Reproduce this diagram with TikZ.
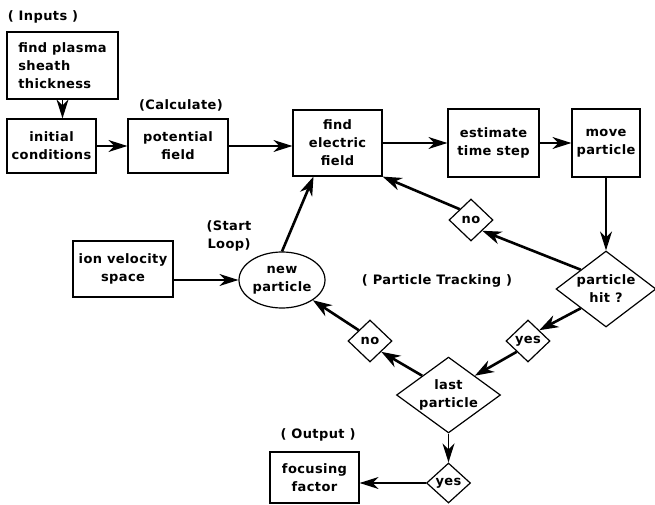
\documentclass[tikz,border=0pt]{standalone}
\usepackage{fontspec}
\setmainfont{DejaVu Sans}[LetterSpace=3]
\usepackage{tikz}
\usetikzlibrary{calc,shapes.geometric,arrows.meta}
\def\stepbox{\node[rectangle,draw=black,line width=1.2pt,inner sep=2pt,align=center]}
\def\testnode{\node[diamond,draw=black,line width=1.2pt,inner sep=0pt,aspect=1.3,align=center]}
\def\drawflow{\draw[line width=1.3pt,-{Stealth[length=19pt,width=12pt,inset=6pt]}]}
\def\drawloop{\draw[line width=2.6pt,-{Stealth[length=19pt,width=13pt,inset=6pt]}]}

\begin{document}
\begin{tikzpicture}[x=1pt,y=-1pt,font=\fontsize{13}{18}\selectfont\bfseries]
\useasboundingbox (0,0) rectangle (655,505);

% ---------- inputs and the top row
\node (inputs) at (43,17) {( Inputs )};
\stepbox[minimum width=111pt,minimum height=67pt,align=left] (sheath) at (62.5,65.5) {find plasma\\sheath\\thickness};
\stepbox[minimum width=89pt,minimum height=54pt] (init) at (51.5,146) {initial\\conditions};
\node (calc) at (181,105) {(Calculate)};
\stepbox[minimum width=100pt,minimum height=54pt] (pot) at (178,146) {potential\\field};
\stepbox[minimum width=89pt,minimum height=66pt] (elec) at (337.5,143) {find\\electric\\field};
\stepbox[minimum width=91pt,minimum height=68pt] (est) at (493.5,143) {estimate\\time step};
\stepbox[minimum width=68pt,minimum height=68pt] (move) at (606,143) {move\\particle};

\drawflow (sheath.south) to (sheath.south |- init.north);
\drawflow (init.east) to (pot.west);
\drawflow (pot.east) to (elec.west |- pot.east);
\drawflow (elec.east) to (est.west);
\drawflow (est.east) to (move.west);

% ---------- the tracking loop
\testnode[minimum width=100pt,minimum height=76pt] (hit) at (606,289) {particle\\hit ?};
\testnode[minimum width=44pt,minimum height=42pt] (no1) at (471,220) {no};
\node (track) at (437,281) {( Particle Tracking )};
\stepbox[minimum width=100pt,minimum height=56pt] (ion) at (123,269) {ion velocity\\space};
\node[ellipse,draw=black,line width=1.2pt,inner sep=0pt,minimum width=86pt,minimum height=56pt,align=center] (newp) at (282,280) {new\\particle};
\node[align=center] (start) at (229,236) {(Start\\Loop)};
\testnode[minimum width=44pt,minimum height=42pt] (yes1) at (528,341) {yes};
\testnode[minimum width=44pt,minimum height=42pt] (no2) at (370,341) {no};
\testnode[minimum width=104pt,minimum height=74pt] (last) at (448.5,395) {last\\particle};

\drawflow (move.south) to (hit.north);
\drawflow (ion.east |- newp.west) to (newp.west);
\drawloop (hit.north west) to (no1.south east);
\drawloop (no1.north west) to (elec.south east);
\drawloop (hit.south west) to (yes1.north east);
\drawloop (yes1.south west) to (last.north east);
\drawloop (last.north west) to (no2.south east);
\drawloop (no2.north west) to (newp.south east);
\drawloop (newp.north) to ($ (elec.south) + (-24,0) $);

% ---------- output
\node (output) at (318,435) {( Output )};
\testnode[minimum width=44pt,minimum height=40pt] (yes2) at (448.5,483) {yes};
\stepbox[minimum width=89pt,minimum height=51pt] (focus) at (314.5,477.5) {focusing\\factor};

\drawflow (last.south) to (yes2.north);
\drawflow (yes2.west) to (yes2.west -| focus.east);
\end{tikzpicture}
\end{document}
